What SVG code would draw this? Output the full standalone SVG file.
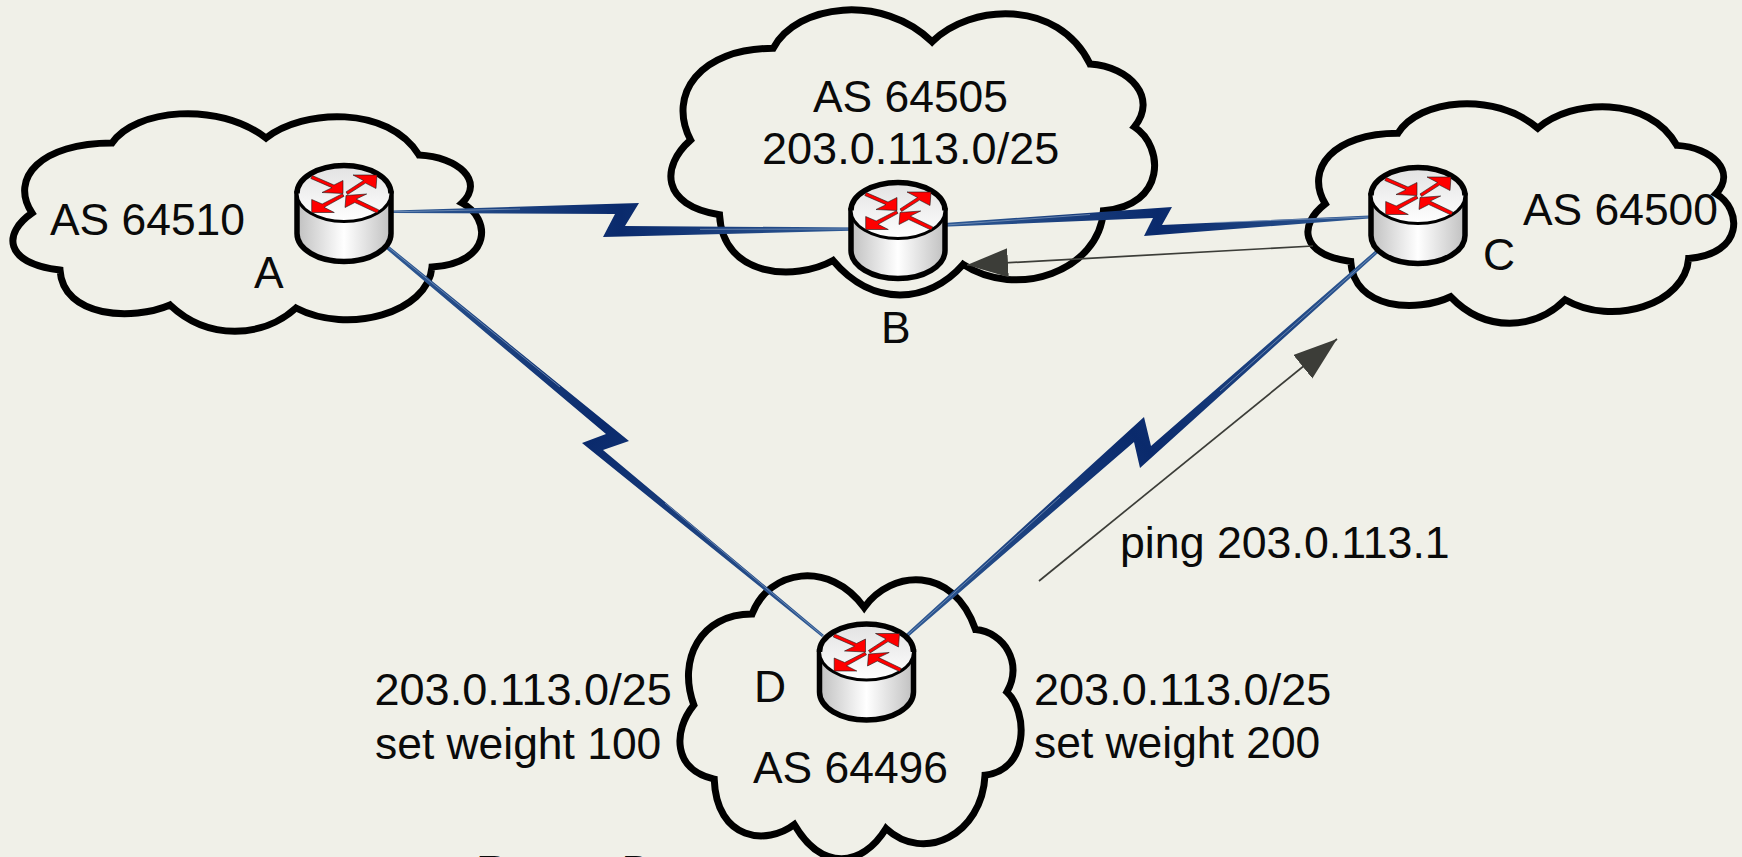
<svg xmlns="http://www.w3.org/2000/svg" width="1742" height="857" viewBox="0 0 1742 857">
<style>
text{font-family:"Liberation Sans",Arial,sans-serif;font-size:44.4px;fill:#0a0a0a}
text.w{font-size:45.05px}
text.p{font-size:44.7px}
#cl{fill:none;stroke:#000;stroke-width:7;stroke-miterlimit:6;vector-effect:non-scaling-stroke}
.stripe{fill:none;stroke:#8ba2c4;stroke-width:.9;opacity:.75}
.thin{fill:none;stroke:#3c3d38;stroke-width:1.7}
.rim{stroke:#000;stroke-width:5.5}
.arr{fill:#f00;stroke:#1a1a1a;stroke-width:.6;stroke-linejoin:miter}
</style>
<defs>
<path id="cl" d="M19,100C-4,65 28,30 99,30C122,-4 205,-12 253,25C290,-4 375,-8 406,42C445,44 472,68 449,90C478,105 480,150 419,154C415,200 335,222 283,195C250,225 195,228 157,192C120,208 50,205 47,157C-10,150 -10,120 19,100Z"/>
<linearGradient id="gTop" x1="0" y1="0" x2="0" y2="1"><stop offset="0" stop-color="#e2e2e2"/><stop offset="1" stop-color="#fff"/></linearGradient>
<linearGradient id="gBody" x1="0" y1="0" x2="1" y2="0"><stop offset="0" stop-color="#c0c0c0"/><stop offset=".5" stop-color="#fff"/><stop offset="1" stop-color="#c0c0c0"/></linearGradient>
<linearGradient id="gAB" gradientUnits="userSpaceOnUse" x1="393" y1="0" x2="850" y2="0"><stop offset="0" stop-color="#2f5a94"/><stop offset=".5" stop-color="#0a2a6c"/><stop offset="1" stop-color="#2f5a94"/></linearGradient>
<linearGradient id="gBC" gradientUnits="userSpaceOnUse" x1="946" y1="0" x2="1369" y2="0"><stop offset="0" stop-color="#2f5a94"/><stop offset=".5" stop-color="#0a2a6c"/><stop offset="1" stop-color="#2f5a94"/></linearGradient>
<linearGradient id="gAD" gradientUnits="userSpaceOnUse" x1="387" y1="247" x2="823" y2="636"><stop offset="0" stop-color="#2f5a94"/><stop offset=".48" stop-color="#0a2a6c"/><stop offset="1" stop-color="#2f5a94"/></linearGradient>
<linearGradient id="gCD" gradientUnits="userSpaceOnUse" x1="907" y1="635" x2="1377" y2="252"><stop offset="0" stop-color="#2f5a94"/><stop offset=".5" stop-color="#0a2a6c"/><stop offset="1" stop-color="#2f5a94"/></linearGradient>
<marker id="headP" markerUnits="userSpaceOnUse" markerWidth="46" markerHeight="32" refX="44" refY="15" orient="auto"><path d="M0,0L44,15L0,30Z" fill="#3c3d38"/></marker>
<marker id="headB" markerUnits="userSpaceOnUse" markerWidth="44" markerHeight="32" refX="41" refY="14.5" orient="auto"><path d="M0,0L41,14.5L0,29Z" fill="#3c3d38"/></marker>
<g id="router">
<path d="M-47,-19V21A47,28 0 0 0 47,21V-19Z" fill="url(#gBody)" class="rim"/>
<ellipse cx="0" cy="-19" rx="47" ry="28" fill="url(#gTop)" stroke="#000" stroke-width="3"/>
<path d="M-47,-19A47,28 0 0 1 47,-19" fill="none" class="rim"/>
<path class="arr" d="M-31.8,-37L-33.2,-34L-12,-24.8L-22,-20L-1,-19L-1,-32L-10,-27.5Z"/>
<path class="arr" d="M2,-20.6L3.6,-18L21.5,-29.4L32,-24L33,-37.5L9,-37.5L19.5,-32Z"/>
<path class="arr" d="M0,-16.2L-1.6,-18.8L-21.8,-8.5L-32.3,-13L-32.3,0L-9.7,0L-19.9,-5.2Z"/>
<path class="arr" d="M34.8,-2.6L33.2,.6L10.8,-10L1,-5L2,-17L22.7,-18.5L12.2,-13.4Z"/>
</g>
</defs>
<rect width="1742" height="857" fill="#f0f0e8"/>
<g id="cloud-a"><use href="#cl" transform="translate(13,113)"/></g>
<g id="cloud-b"><use href="#cl" transform="translate(671,9) scale(1.032,1.31)"/></g>
<g id="cloud-c"><use href="#cl" transform="translate(1308,103) scale(.9085,1.009)"/></g>
<g id="cloud-d"><use href="#cl" transform="translate(680,575) scale(.728,1.3)"/></g>
<g id="connectors">
<path fill="url(#gAB)" d="M393,210.5L639,203L625,226L860,227.5L860,230.5L603,237L615,214L393,213Z"/>
<path fill="url(#gBC)" d="M937,223.5L1172,207L1162,225L1369,215.5L1369,218.5L1144,236L1153,218L937,227Z"/>
<path fill="url(#gAD)" d="M388.3,245.5L629,441L603,450L824,635L822,637L582,443L606,434L385.7,248.5Z"/>
<path fill="url(#gCD)" d="M906,634L1144,417L1151,446L1376,250L1378,253L1140,468L1134,442L908,637Z"/>
<path class="stripe" d="M393,211.8L520,209M700,229.3L850,229M946,225L1090,214.5M1215,222.5L1369,217M388,247L560,387M665,503L823,636M907,635.5L1060,497M1220,391L1377,251.5"/>
<path class="thin" d="M1039,581L1337,339" marker-end="url(#headP)"/>
<path class="thin" d="M1313,246L967,265" marker-end="url(#headB)"/>
</g>
<use id="router-a" href="#router" transform="translate(344,212.5)"/>
<use id="router-b" href="#router" transform="translate(898,229.5)"/>
<use id="router-c" href="#router" transform="translate(1418,214.5)"/>
<use id="router-d" href="#router" transform="translate(866.5,671)"/>
<g id="labels">
<text x="50" y="235">AS 64510</text>
<text x="254" y="288">A</text>
<text x="813" y="112">AS 64505</text>
<text class="w" x="762" y="164">203.0.113.0/25</text>
<text x="881" y="343">B</text>
<text x="1523" y="225">AS 64500</text>
<text x="1483" y="270">C</text>
<text x="754" y="702">D</text>
<text x="753" y="783">AS 64496</text>
<text class="w" x="374.5" y="705">203.0.113.0/25</text>
<text x="375" y="759">set weight 100</text>
<text class="w" x="1034" y="705">203.0.113.0/25</text>
<text x="1034" y="758">set weight 200</text>
<text class="p" x="1120" y="558">ping 203.0.113.1</text>
<text x="476" y="887">Router D</text>
</g>
</svg>
